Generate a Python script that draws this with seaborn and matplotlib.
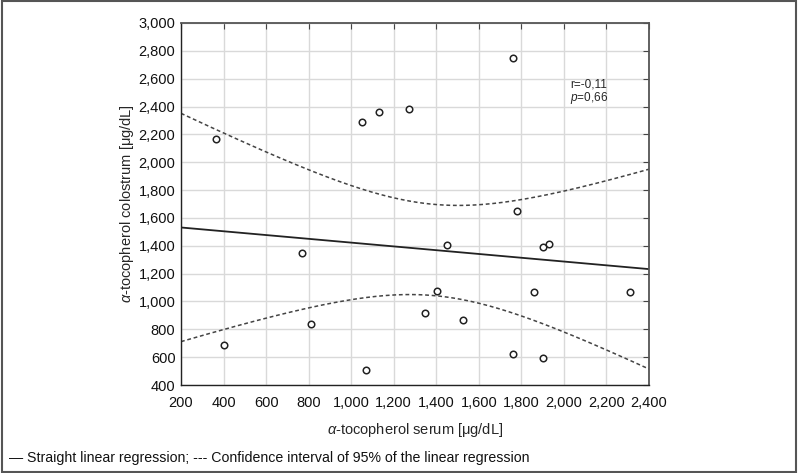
import numpy as np
import pandas as pd
import seaborn as sns
import matplotlib.pyplot as plt
from matplotlib.patches import Rectangle
from matplotlib.ticker import FuncFormatter

# values
serum = [365, 400, 770, 810, 1070, 1050, 1130, 1270, 1760, 1780,
         1450, 1900, 1930, 1405, 1860, 2310, 1345, 1525, 1760, 1900]
colostrum = [2170, 690, 1350, 835, 505, 2290, 2360, 2380, 2750, 1650,
             1405, 1390, 1410, 1075, 1065, 1065, 915, 870, 625, 595]
x_ticks = list(range(200, 2401, 200))
y_ticks = list(range(400, 3001, 200))
r_text = "r=-0,11"
p_text = "$\\it{p}$=0,66"
footer = "— Straight linear regression; --- Confidence interval of 95% of the linear regression"

sns.set_style("whitegrid")
plt.rcParams["font.family"] = ["Liberation Sans", "DejaVu Sans"]
plt.rcParams["mathtext.fontset"] = "custom"
plt.rcParams["mathtext.it"] = "Liberation Sans:italic"
plt.rcParams["mathtext.rm"] = "Liberation Sans"

df = pd.DataFrame({"serum": serum, "colostrum": colostrum})

# linear fit and 95% confidence band of the mean
x = np.array(serum, dtype=float)
y = np.array(colostrum, dtype=float)
n = len(x)
b, a = np.polyfit(x, y, 1)
resid = y - (a + b * x)
s = np.sqrt(np.sum(resid ** 2) / (n - 2))
t = 2.101  # t(0.975, 18)
xs = np.linspace(200, 2400, 200)
fit = a + b * xs
half = t * s * np.sqrt(1 / n + (xs - x.mean()) ** 2 / np.sum((x - x.mean()) ** 2))
line_df = pd.DataFrame({"x": xs, "fit": fit, "lo": fit - half, "hi": fit + half})

fig = plt.figure(figsize=(7.98, 4.73), dpi=100)
ax = fig.add_axes([0.2268, 0.186, 0.5865, 0.7654])

sns.lineplot(data=line_df, x="x", y="fit", ax=ax, color="#222222", lw=1.3)
sns.lineplot(data=line_df, x="x", y="hi", ax=ax, color="#444444", lw=1.1,
             linestyle=(0, (2.5, 1.8)))
sns.lineplot(data=line_df, x="x", y="lo", ax=ax, color="#444444", lw=1.1,
             linestyle=(0, (2.5, 1.8)))
sns.scatterplot(data=df, x="serum", y="colostrum", ax=ax, marker="o", s=22,
                facecolor="white", edgecolor="#222222", linewidth=1.1, zorder=5)

ax.set_xlim(200, 2400)
ax.set_ylim(400, 3000)
ax.set_xticks(x_ticks)
ax.set_yticks(y_ticks)
fmt = FuncFormatter(lambda v, _: f"{int(v):,}")
ax.xaxis.set_major_formatter(fmt)
ax.yaxis.set_major_formatter(fmt)
ax.grid(True, color="#d9d9d9", lw=1.0)
ax.tick_params(axis="both", labelsize=10.5, colors="#111111", length=0)
ax.tick_params(axis="x", pad=8)
ax.tick_params(axis="y", pad=4)
ax.tick_params(top=True, right=True, direction="in", length=4, labeltop=False, labelright=False,
               color="#444444")
for side in ["left", "bottom"]:
    ax.spines[side].set_color("#222222")
    ax.spines[side].set_linewidth(1.0)
for side in ["top", "right"]:
    ax.spines[side].set_color("#555555")
    ax.spines[side].set_linewidth(1.3)

ax.set_xlabel("$\\it{α}$-tocopherol serum [μg/dL]", fontsize=10.5, labelpad=8)
ax.set_ylabel("$\\it{α}$-tocopherol colostrum [μg/dL]", fontsize=10.5, labelpad=2)

ax.text(0.831, 0.829, r_text, transform=ax.transAxes, fontsize=8.5, va="center")
ax.text(0.831, 0.793, p_text, transform=ax.transAxes, fontsize=8.5, va="center")

fig.text(0.011, 0.032, footer, fontsize=10.2, color="#111111", va="center")
fig.patches.append(Rectangle((0.002, 0.003), 0.996, 0.994, transform=fig.transFigure,
                             fill=False, edgecolor="#555555", lw=1.5))

fig.savefig("out.png", dpi=100)
